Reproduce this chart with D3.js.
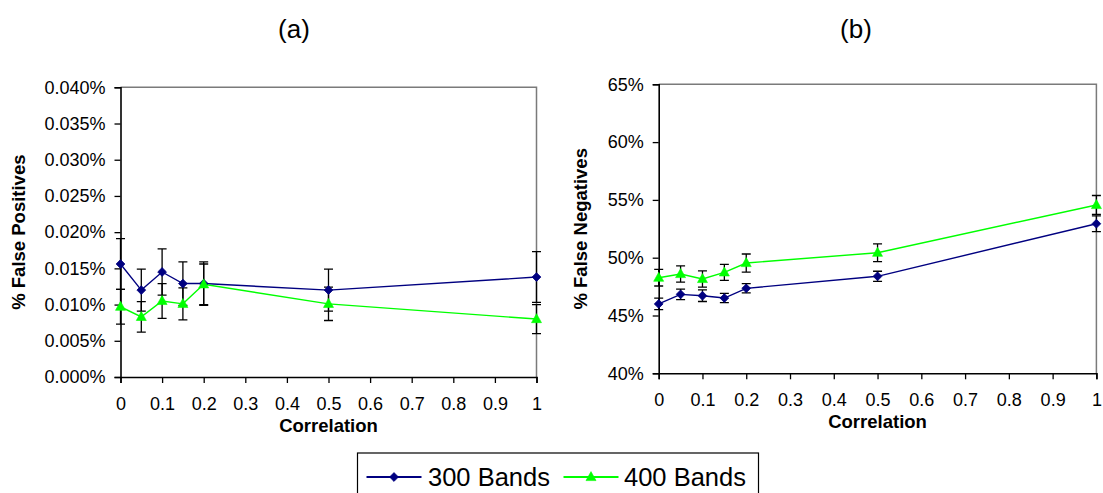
<!DOCTYPE html>
<html>
<head>
<meta charset="utf-8">
<script src="https://cdn.jsdelivr.net/npm/d3@7"></script>
<style>
  html, body { margin: 0; padding: 0; background: #fff; }
  svg { display: block; }
  text { font-family: "Liberation Sans", Arial, sans-serif; fill: #000; }
</style>
</head>
<body>
<svg id="chart" width="1103" height="493"></svg>
<script>
// Correlation levels on the x axis
const correlation = [0, 0.05, 0.1, 0.15, 0.2, 0.5, 1];
const xTicks = [0, 0.1, 0.2, 0.3, 0.4, 0.5, 0.6, 0.7, 0.8, 0.9, 1];

// (a) false positive rate, in percent
const fp300 = [0.0156, 0.0120, 0.0145, 0.0129, 0.0129, 0.0120, 0.0138];
const fp300Err = [0.0035, 0.0029, 0.0032, 0.0030, 0.0030, 0.0029, 0.0035];
const fp400 = [0.0097, 0.0083, 0.0105, 0.0101, 0.0128, 0.0101, 0.0080];
const fp400Err = [0.0024, 0.0021, 0.0024, 0.0022, 0.0028, 0.0023, 0.0020];
const fpTicks = [0, 0.005, 0.01, 0.015, 0.02, 0.025, 0.03, 0.035, 0.04];

// (b) false negative rate, in percent
const fn300 = [46.0, 46.83, 46.71, 46.51, 47.35, 48.39, 52.94];
const fn300Err = [0.5, 0.45, 0.5, 0.4, 0.4, 0.44, 0.68];
const fn400 = [48.27, 48.59, 48.16, 48.73, 49.54, 50.43, 54.56];
const fn400Err = [0.72, 0.7, 0.7, 0.7, 0.78, 0.77, 0.82];
const fnTicks = [40, 45, 50, 55, 60, 65];

const seriesNames = ["300 Bands", "400 Bands"];
const colors = { b300: "#000080", b400: "#00ff00" };

const svg = d3.select("#chart");
svg.append("rect").attr("width", 1103).attr("height", 493).attr("fill", "#fff");

function diamond(g, x, y, color) {
  const r = 4.4;
  g.append("path")
    .attr("d", `M${x},${y - r}L${x + r},${y}L${x},${y + r}L${x - r},${y}Z`)
    .attr("fill", color).attr("stroke", color).attr("stroke-width", 0.8);
}
function triangle(g, x, y, color) {
  const w = 5, h = 9;
  g.append("path")
    .attr("d", `M${x},${y - h * 0.6}L${x + w},${y + h * 0.4}L${x - w},${y + h * 0.4}Z`)
    .attr("fill", color).attr("stroke", color).attr("stroke-width", 0.6);
}

function panel(opts) {
  const x = d3.scaleLinear().domain([0, 1]).range([opts.left, opts.right]);
  const y = d3.scaleLinear().domain(opts.yDomain).range([opts.bottom, opts.top]);
  const g = svg.append("g");

  // plot frame (top and right)
  g.append("path")
    .attr("d", `M${opts.left},${opts.top}H${opts.right}V${opts.bottom}`)
    .attr("fill", "none").attr("stroke", "#7a7a7a").attr("stroke-width", 1.5);

  // y axis
  const yAxis = d3.axisLeft(y).tickValues(opts.yTicks).tickSize(6).tickPadding(9)
    .tickFormat(opts.yFormat);
  const ga = g.append("g").attr("transform", `translate(${opts.left},0)`).call(yAxis);
  ga.select(".domain").attr("stroke", "#000").attr("stroke-width", 1.6);
  ga.selectAll(".tick line").attr("stroke", "#000").attr("stroke-width", 1.3);
  ga.selectAll(".tick text").attr("font-size", 18)
    .attr("font-family", "Liberation Sans, Arial, sans-serif").attr("fill", "#000");

  // x axis
  const xAxis = d3.axisBottom(x).tickValues(xTicks).tickSize(6).tickPadding(14)
    .tickFormat(d3.format("~g"));
  const gx = g.append("g").attr("transform", `translate(0,${opts.bottom})`).call(xAxis);
  gx.select(".domain").attr("stroke", "#000").attr("stroke-width", 1.6);
  gx.selectAll(".tick line").attr("stroke", "#000").attr("stroke-width", 1.3);
  gx.selectAll(".tick text").attr("font-size", 18)
    .attr("font-family", "Liberation Sans, Arial, sans-serif").attr("fill", "#000");

  // axis titles
  g.append("text")
    .attr("x", (opts.left + opts.right) / 2).attr("y", opts.bottom + 55)
    .attr("text-anchor", "middle").attr("font-size", 18.5).attr("font-weight", "bold")
    .text("Correlation");
  g.append("text")
    .attr("transform", `translate(${opts.yTitleX},${(opts.top + opts.bottom) / 2}) rotate(-90)`)
    .attr("text-anchor", "middle").attr("font-size", 18.5).attr("font-weight", "bold")
    .text(opts.yTitle);

  // panel label
  g.append("text")
    .attr("x", opts.labelX).attr("y", 38)
    .attr("text-anchor", "middle").attr("font-size", 26)
    .attr("font-family", "Liberation Serif, 'Times New Roman', serif")
    .text(opts.label);

  const line = d3.line().x((d, i) => x(correlation[i])).y(d => y(d));

  opts.series.forEach(s => {
    g.append("path").datum(s.values).attr("d", line)
      .attr("fill", "none").attr("stroke", s.color).attr("stroke-width", 1.4);
  });

  // error bars
  opts.series.forEach(s => {
    s.values.forEach((v, i) => {
      const cx = x(correlation[i]);
      const y0 = y(v - s.err[i]), y1 = y(v + s.err[i]);
      g.append("path")
        .attr("d", `M${cx},${y0}V${y1}M${cx - 4.5},${y0}H${cx + 4.5}M${cx - 4.5},${y1}H${cx + 4.5}`)
        .attr("stroke", "#000").attr("stroke-width", 1.3).attr("fill", "none");
    });
  });

  // markers
  opts.series.forEach(s => {
    s.values.forEach((v, i) => s.marker(g, x(correlation[i]), y(v), s.color));
  });
}

panel({
  left: 120.5, right: 536.5, top: 87.3, bottom: 377,
  yDomain: [0, 0.04], yTicks: fpTicks, yFormat: d => d.toFixed(3) + "%",
  yTitle: "% False Positives", yTitleX: 25, label: "(a)", labelX: 294,
  series: [
    { values: fp300, err: fp300Err, color: colors.b300, marker: diamond },
    { values: fp400, err: fp400Err, color: colors.b400, marker: triangle }
  ]
});

panel({
  left: 658.7, right: 1096.4, top: 84.3, bottom: 373.3,
  yDomain: [40, 65], yTicks: fnTicks, yFormat: d => d + "%",
  yTitle: "% False Negatives", yTitleX: 587, label: "(b)", labelX: 856,
  series: [
    { values: fn300, err: fn300Err, color: colors.b300, marker: diamond },
    { values: fn400, err: fn400Err, color: colors.b400, marker: triangle }
  ]
});

// legend
const lg = svg.append("g");
lg.append("rect").attr("x", 357.5).attr("y", 453).attr("width", 401).attr("height", 60)
  .attr("fill", "#fff").attr("stroke", "#000").attr("stroke-width", 1.2);
const legendItems = [
  { name: seriesNames[0], color: colors.b300, marker: diamond, x0: 366.5, tx: 428 },
  { name: seriesNames[1], color: colors.b400, marker: triangle, x0: 563.5, tx: 624 }
];
legendItems.forEach(it => {
  lg.append("line").attr("x1", it.x0).attr("x2", it.x0 + 55).attr("y1", 477).attr("y2", 477)
    .attr("stroke", it.color).attr("stroke-width", 2);
  it.marker(lg, it.x0 + 27.5, 477, it.color);
  lg.append("text").attr("x", it.tx).attr("y", 486).attr("font-size", 25.5).text(it.name);
});
</script>
</body>
</html>
